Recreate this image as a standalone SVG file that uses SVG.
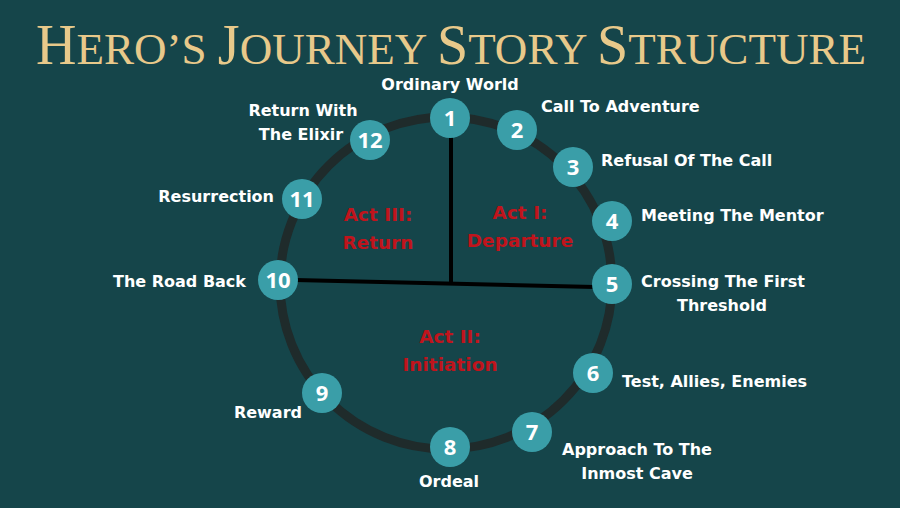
<svg xmlns="http://www.w3.org/2000/svg" width="900" height="508" viewBox="0 0 900 508">
<style>
.lbl{font-family:"DejaVu Sans","Open Sans",sans-serif;font-weight:700;font-size:16px;fill:#ffffff}
.num{font-family:"Open Sans","Liberation Sans",sans-serif;font-weight:700;font-size:22px;fill:#ffffff;text-anchor:middle}
.act{font-family:"DejaVu Sans","Open Sans",sans-serif;font-weight:700;font-size:18.5px;fill:#c0141c;text-anchor:middle}
.dot{fill:#3a9ea8}
.title{font-family:"Liberation Serif","DejaVu Serif",serif;font-size:45px;fill:#e8c98a}
.cap{font-size:56px}
</style>
<rect width="900" height="508" fill="#15454a"/>
<text class="title" x="36" y="64" textLength="830" lengthAdjust="spacingAndGlyphs"><tspan class="cap">H</tspan>ERO’S <tspan class="cap">J</tspan>OURNEY <tspan class="cap">S</tspan>TORY <tspan class="cap">S</tspan>TRUCTURE</text>
<g id="connectors" fill="none">
<circle cx="446" cy="283" r="166" stroke="#1f2b2b" stroke-width="9"/>
<line x1="451" y1="135" x2="451" y2="284" stroke="#000" stroke-width="4"/>
<line x1="295" y1="280" x2="595" y2="287" stroke="#000" stroke-width="4"/>
</g>
<g id="acts">
<text class="act" x="378" y="221">Act III:</text>
<text class="act" x="378" y="249">Return</text>
<text class="act" x="520" y="219">Act I:</text>
<text class="act" x="520" y="247">Departure</text>
<text class="act" x="450" y="343">Act II:</text>
<text class="act" x="450" y="371">Initiation</text>
</g>
<g id="n1"><circle class="dot" cx="450" cy="118" r="20"/><text class="num" x="450" y="126">1</text><text class="lbl" x="450" y="90" text-anchor="middle">Ordinary World</text></g>
<g id="n2"><circle class="dot" cx="517" cy="130" r="20"/><text class="num" x="517" y="138">2</text><text class="lbl" x="541" y="112">Call To Adventure</text></g>
<g id="n3"><circle class="dot" cx="573" cy="167" r="20"/><text class="num" x="573" y="175">3</text><text class="lbl" x="601" y="166">Refusal Of The Call</text></g>
<g id="n4"><circle class="dot" cx="612" cy="221" r="20"/><text class="num" x="612" y="229">4</text><text class="lbl" x="641" y="221">Meeting The Mentor</text></g>
<g id="n5"><circle class="dot" cx="612" cy="284" r="20"/><text class="num" x="612" y="292">5</text><text class="lbl" x="723" y="287" text-anchor="middle">Crossing The First</text><text class="lbl" x="722" y="311" text-anchor="middle">Threshold</text></g>
<g id="n6"><circle class="dot" cx="593" cy="373" r="20"/><text class="num" x="593" y="381">6</text><text class="lbl" x="622" y="387">Test, Allies, Enemies</text></g>
<g id="n7"><circle class="dot" cx="532" cy="432" r="20"/><text class="num" x="532" y="440">7</text><text class="lbl" x="637" y="455" text-anchor="middle">Approach To The</text><text class="lbl" x="637" y="479" text-anchor="middle">Inmost Cave</text></g>
<g id="n8"><circle class="dot" cx="450" cy="447" r="20"/><text class="num" x="450" y="455">8</text><text class="lbl" x="449" y="487" text-anchor="middle">Ordeal</text></g>
<g id="n9"><circle class="dot" cx="322" cy="393" r="20"/><text class="num" x="322" y="401">9</text><text class="lbl" x="302" y="418" text-anchor="end">Reward</text></g>
<g id="n10"><circle class="dot" cx="278" cy="280" r="20"/><text class="num" x="278" y="288">10</text><text class="lbl" x="246" y="287" text-anchor="end">The Road Back</text></g>
<g id="n11"><circle class="dot" cx="302" cy="199" r="20"/><text class="num" x="302" y="207">11</text><text class="lbl" x="274" y="202" text-anchor="end">Resurrection</text></g>
<g id="n12"><circle class="dot" cx="370" cy="140" r="20"/><text class="num" x="370" y="148">12</text><text class="lbl" x="303" y="116" text-anchor="middle">Return With</text><text class="lbl" x="301" y="140" text-anchor="middle">The Elixir</text></g>
</svg>
